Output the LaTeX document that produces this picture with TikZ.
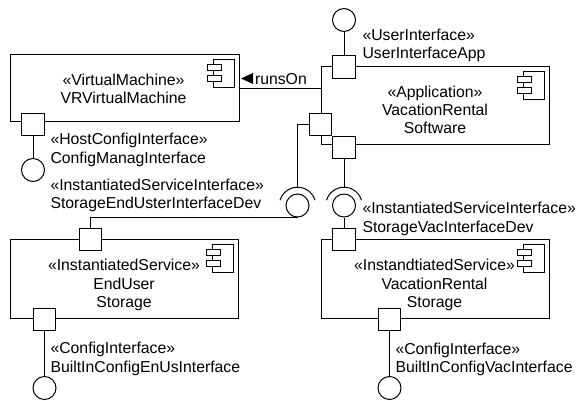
\documentclass[tikz,border=0pt]{standalone}
\usepackage{fontspec}
\setmainfont{Liberation Sans}
\usetikzlibrary{positioning}
\tikzset{
  compicon/.pic={
    \draw[fill=white] (-21,0) rectangle (0,28);
    \draw[fill=white] (-27,5) rectangle (-13,11);
    \draw[fill=white] (-27,16) rectangle (-13,22);
  }
}

\begin{document}
\begin{tikzpicture}[x=1pt,y=-1pt,line width=1pt,
  every node/.style={font=\fontsize{15.8}{18.3}\selectfont},
  comp/.style={draw,minimum width=228pt,inner sep=0},
  port/.style={draw,fill=white,minimum size=22.5pt,inner sep=0},
  ball/.style={draw,circle,minimum size=23pt,inner sep=0},
  txt/.style={align=center,inner sep=0},
  lbl/.style={align=left,anchor=west,inner sep=0}]
  \useasboundingbox (0,0) rectangle (576,401);

  \node[comp,minimum width=229pt,minimum height=67pt] (vm) at (124.5,88.5) {};
  \node[comp,minimum height=78pt] (app) at (435,106) {};
  \node[comp,minimum height=79pt] (eu) at (124,278.5) {};
  \node[comp,minimum height=79pt] (vac) at (435,278.5) {};

  \node[txt] (vmtxt) at (123.5,89) {«VirtualMachine»\\VRVirtualMachine};
  \node[txt] (apptxt) at (435,110) {«Application»\\VacationRental\\Software};
  \node[txt] (eutxt) at (124,285) {«InstantiatedService»\\EndUser\\Storage};
  \node[txt] (vactxt) at (434.5,285) {«InstandtiatedService»\\VacationRental\\Storage};

  \pic at ([xshift=-5pt,yshift=-5.5pt]vm.north east) {compicon};
  \pic at ([xshift=-5pt,yshift=-5.5pt]app.north east) {compicon};
  \pic at ([xshift=-5pt,yshift=-5.5pt]eu.north east) {compicon};
  \pic at ([xshift=-5pt,yshift=-5.5pt]vac.north east) {compicon};

  \node[ball] (vmball) at (33,170) {};
  \node[ball] (uiball) at (344,20) {};
  \node[ball] (eudev) at (297.5,205.5) {};
  \node[ball] (vacdev) at (344,205.5) {};
  \node[ball] (euball) at (44.5,388) {};
  \node[ball] (vacball) at (389.5,388) {};

  \foreach \b in {eudev,vacdev}
    \draw ([shift={(-17:18.3)}]\b.center) arc[start angle=-17,end angle=-163,radius=18.3];
  \coordinate (eusock) at ([yshift=18.3pt]eudev.center);
  \coordinate (vacsock) at ([yshift=18.3pt]vacdev.center);

  \node[port] (vmport) at (33,124.5) {};
  \node[port] (uiport) at (344,67) {};
  \node[port] (devport) at (320.5,124.5) {};
  \node[port] (vacdevport) at (344,147.5) {};
  \node[port] (eutop) at (90.5,239.5) {};
  \node[port] (eubot) at (44.5,319.5) {};
  \node[port] (vactop) at (344,239.5) {};
  \node[port] (vacbot) at (389.5,319.5) {};

  \draw (vmport) -- (vmball);
  \draw (uiport) -- (uiball);
  \draw (devport.west) -| (eusock);
  \draw (vacdevport) -- (vacsock);
  \draw (eudev.south) -| (eutop.north);
  \draw (vacdev) -- (vactop);
  \draw (eubot) -- (euball);
  \draw (vacbot) -- (vacball);

  \draw (vm.east) -- (vm.east -| app.west);
  \fill (241,78.5) -- (253,73) -- (253,84) -- cycle;
  \node[lbl] (runs) at (254.5,79) {runsOn};

  \node[lbl] (uilbl) at (362,45.5) {«UserInterface»\\UserInterfaceApp};
  \node[lbl] (hostlbl) at (50,150) {«HostConfigInterface»\\ConfigManagInterface};
  \node[lbl] (eudevlbl) at (50,195.5) {«InstantiatedServiceInterface»\\StorageEndUsterInterfaceDev};
  \node[lbl] (vacdevlbl) at (362,219) {«InstantiatedServiceInterface»\\StorageVacInterfaceDev};
  \node[lbl] (eucfglbl) at (50,359) {«ConfigInterface»\\BuiltInConfigEnUsInterface};
  \node[lbl] (vaccfglbl) at (395,359.5) {«ConfigInterface»\\BuiltInConfigVacInterface};
\end{tikzpicture}
\end{document}
